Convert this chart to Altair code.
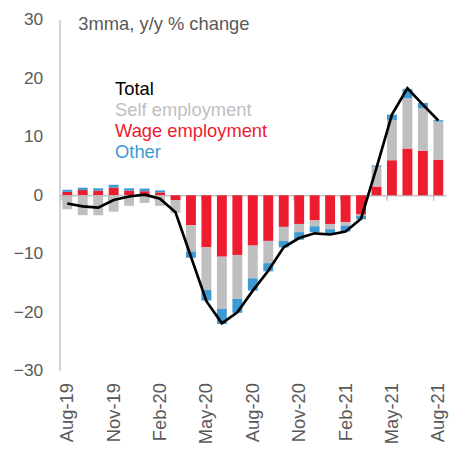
import altair as alt
import pandas as pd

months = ["Aug-19", "Sep-19", "Oct-19", "Nov-19", "Dec-19", "Jan-20", "Feb-20",
          "Mar-20", "Apr-20", "May-20", "Jun-20", "Jul-20", "Aug-20", "Sep-20",
          "Oct-20", "Nov-20", "Dec-20", "Jan-21", "Feb-21", "Mar-21", "Apr-21",
          "May-21", "Jun-21", "Jul-21", "Aug-21"]
wage = [0.6, 0.9, 0.8, 1.3, 0.8, 0.7, 0.5, -0.8, -5.1, -8.9, -10.5, -10.2, -8.6,
        -7.8, -5.4, -4.9, -4.3, -4.9, -4.6, -3.3, 1.5, 6.0, 8.0, 7.6, 6.1]
self_emp = [-2.4, -3.4, -3.4, -2.8, -1.8, -1.3, -1.8, -2.2, -4.5, -7.3, -8.9, -7.5,
            -5.6, -3.8, -2.4, -1.4, -1.0, -0.9, -0.6, -0.2, 3.4, 6.9, 8.6, 7.3, 6.5]
other = [0.35, 0.4, 0.4, 0.5, 0.4, 0.45, 0.35, 0.0, -1.1, -1.8, -2.6, -2.4, -2.1,
         -1.4, -1.1, -1.3, -1.0, -0.9, -1.0, -0.6, 0.2, 0.9, 1.6, 0.9, 0.25]
total = [-1.4, -1.9, -2.1, -0.8, -0.2, 0.1, -0.6, -2.9, -10.5, -18.1, -21.9, -20.0,
         -16.3, -12.9, -8.9, -7.3, -6.5, -6.7, -6.2, -4.0, 4.7, 13.8, 18.3, 15.5, 12.8]

label_months = ["Aug-19", "Nov-19", "Feb-20", "May-20", "Aug-20", "Nov-20",
                "Feb-21", "May-21", "Aug-21"]
components = ["Wage employment", "Self employment", "Other"]
comp_colors = ["#ED1C2E", "#BFBFBF", "#3D9AD3"]
legend_labels = ["Total", "Self employment", "Wage employment", "Other"]
legend_colors = ["#000000", "#BFBFBF", "#ED1C2E", "#3D9AD3"]
y_ticks = [-30, -20, -10, 0, 10, 20, 30]
subtitle = "3mma, y/y % change"

FONT = "Liberation Sans"
GREY_TXT = "#595959"
AXIS_GREY = "#A6A6A6"
W, H = 390, 354
TXT = 18.5

rows = []
for i, m in enumerate(months):
    for k, (name, vals) in enumerate(zip(components, [wage, self_emp, other])):
        rows.append({"month": m, "component": name, "value": vals[i], "order": k})
bars_df = pd.DataFrame(rows)
line_df = pd.DataFrame({"month": months, "value": total})

xscale = alt.Scale(paddingInner=0.36, paddingOuter=0.18)
yscale = alt.Scale(domain=[-30, 30], nice=False)
y_axis = alt.Axis(title=None, values=y_ticks, grid=False, ticks=False,
                  labelPadding=17, domainColor=AXIS_GREY, labelFontSize=17.5,
                  labelColor=GREY_TXT, labelFont=FONT)

bars = alt.Chart(bars_df).mark_bar().encode(
    x=alt.X("month:N", sort=months, scale=xscale,
            axis=alt.Axis(title=None, values=label_months, labelAngle=-90,
                          domain=False, ticks=False, labelPadding=12,
                          labelFontSize=TXT, labelColor=GREY_TXT, labelFont=FONT)),
    y=alt.Y("value:Q", stack="zero", scale=yscale, axis=y_axis),
    color=alt.Color("component:N", scale=alt.Scale(domain=components, range=comp_colors),
                    legend=None),
    order=alt.Order("order:Q"),
)

line = alt.Chart(line_df).mark_line(color="black", strokeWidth=2.7).encode(
    x=alt.X("month:N", sort=months, scale=xscale,
            axis=alt.Axis(title=None, labels=False, offset=-H / 2, bandPosition=0,
                          values=label_months, tickSize=5, domainColor=AXIS_GREY,
                          tickColor=AXIS_GREY, orient="bottom")),
    y=alt.Y("value:Q", scale=yscale, axis=y_axis),
)

texts = [alt.Chart(pd.DataFrame({"t": [subtitle]})).mark_text(
    align="left", baseline="middle", fontSize=TXT, font=FONT, color=GREY_TXT
).encode(x=alt.value(19), y=alt.value(4), text="t:N")]

for i, (lab, col) in enumerate(zip(legend_labels, legend_colors)):
    texts.append(alt.Chart(pd.DataFrame({"t": [lab]})).mark_text(
        align="left", baseline="middle", fontSize=TXT, font=FONT, color=col
    ).encode(x=alt.value(56), y=alt.value(70 + i * 21), text="t:N"))

chart = alt.layer(bars, line, *texts).resolve_axis(x="independent").properties(
    width=W, height=H, padding={"top": 1, "left": 5, "right": 5, "bottom": 5},
    background="white",
).configure_view(stroke=None)

chart.save("out.html", embed_options={"renderer": "svg", "actions": False})
